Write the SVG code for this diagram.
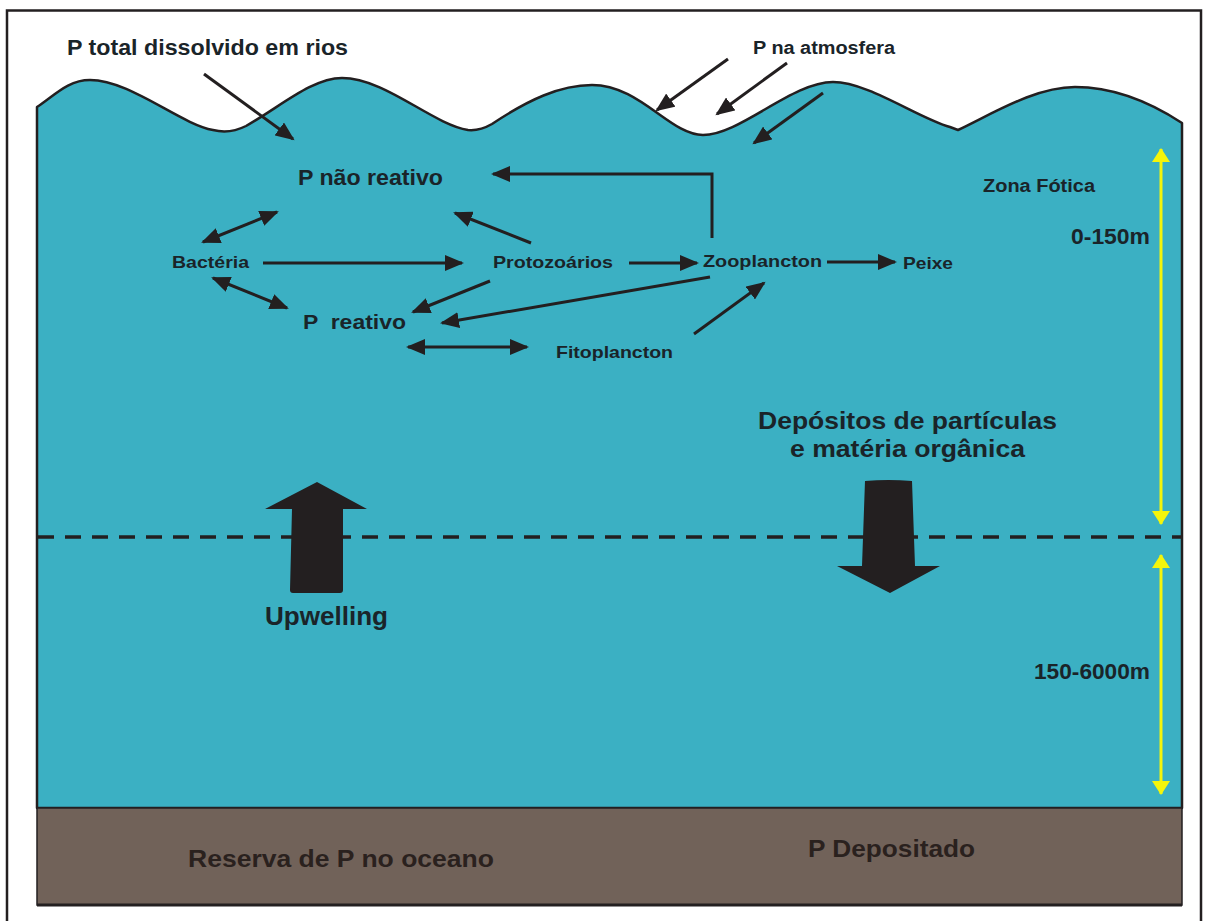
<svg xmlns="http://www.w3.org/2000/svg" width="1208" height="921" viewBox="0 0 1208 921">
<style>
  .t { font-family: "Liberation Sans", Arial, sans-serif; font-weight: bold; fill: #1a2429; }
  .s { font-family: "Liberation Sans", Arial, sans-serif; font-weight: bold; fill: #2a211e; }
  .c { stroke: #231f20; stroke-width: 3; fill: none; }
  .y { stroke: #f5f50a; stroke-width: 3; fill: none; }
</style>
<defs>
  <marker id="ah" markerUnits="userSpaceOnUse" markerWidth="20" markerHeight="16" refX="17" refY="8" orient="auto-start-reverse" viewBox="0 0 20 16">
    <path d="M0,0 L19,8 L0,16 Z" fill="#231f20"/>
  </marker>
  <marker id="yh" markerUnits="userSpaceOnUse" markerWidth="18" markerHeight="18" refX="13" refY="9" orient="auto-start-reverse" viewBox="0 0 14 18">
    <path d="M0,0 L14,9 L0,18 Z" fill="#f5f50a"/>
  </marker>
</defs>
<rect x="0" y="0" width="1208" height="921" fill="#ffffff"/>
<rect x="7" y="10.5" width="1194" height="914" fill="#ffffff" stroke="#231f20" stroke-width="2.5"/>

<g id="ocean">
  <path d="M37,808 L37,107 C55,95 68,80 90,80 C130,80 180,124 213,130 C225,133 236,131 246,126 C280,107 312,78 342,78 C385,78 432,124 468,130 C478,131 485,128 492,124 C528,100 560,85 592,85 C640,85 670,135 703,135 C740,135 792,82 833,82 C868,82 918,118 950,127 L958,130 C992,114 1035,87 1075,87 C1115,87 1150,102 1182,123 L1182,808 Z" fill="#3bb0c3" stroke="#231f20" stroke-width="2.5" stroke-linejoin="round"/>
</g>
<g id="sediment">
  <rect x="37" y="808" width="1145" height="97" fill="#716259" stroke="#231f20" stroke-width="1.5"/>
  <line x1="37" y1="905" x2="1182" y2="905" stroke="#231f20" stroke-width="3"/>
  <text class="s" x="188" y="867" font-size="24" textLength="306" lengthAdjust="spacingAndGlyphs">Reserva de P no oceano</text>
  <text class="s" x="808" y="857" font-size="24" textLength="167" lengthAdjust="spacingAndGlyphs">P Depositado</text>
</g>

<g id="dashed">
  <line x1="38" y1="537" x2="1181" y2="537" stroke="#231f20" stroke-width="3.5" stroke-dasharray="16 11"/>
</g>

<g id="upwelling">
  <path d="M317,482 L367,509 L343,509 L343,590 Q343,593 340,593 L293,593 Q290,593 290,590 L292,509 L265,509 Z" fill="#231f20"/>
  <text class="t" x="265" y="625" font-size="25" textLength="123" lengthAdjust="spacingAndGlyphs">Upwelling</text>
</g>

<g id="deposito">
  <path d="M865,481 Q888,479 912,481 L915,566 L940,566 L890,593 L837,566 L862,566 Z" fill="#231f20"/>
  <text class="t" x="758" y="429" font-size="24" textLength="299" lengthAdjust="spacingAndGlyphs">Depósitos de partículas</text>
  <text class="t" x="790" y="457" font-size="24" textLength="235" lengthAdjust="spacingAndGlyphs">e matéria orgânica</text>
</g>

<g id="zonas">
  <line class="y" x1="1161" y1="149" x2="1161" y2="524" marker-start="url(#yh)" marker-end="url(#yh)"/>
  <line class="y" x1="1161" y1="555" x2="1161" y2="794" marker-start="url(#yh)" marker-end="url(#yh)"/>
  <text class="t" x="983" y="192" font-size="18" textLength="112" lengthAdjust="spacingAndGlyphs">Zona Fótica</text>
  <text class="t" x="1071" y="244" font-size="22" textLength="79" lengthAdjust="spacingAndGlyphs">0-150m</text>
  <text class="t" x="1034" y="679" font-size="22" textLength="116" lengthAdjust="spacingAndGlyphs">150-6000m</text>
</g>

<g id="p-total"><text class="t" x="67" y="55" font-size="22" textLength="281" lengthAdjust="spacingAndGlyphs">P total dissolvido em rios</text></g>
<g id="p-atmosfera"><text class="t" x="753" y="54" font-size="18" textLength="142" lengthAdjust="spacingAndGlyphs">P na atmosfera</text></g>
<g id="p-nao-reativo"><text class="t" x="298" y="185" font-size="22" textLength="145" lengthAdjust="spacingAndGlyphs">P não reativo</text></g>
<g id="bacteria"><text class="t" x="172" y="268" font-size="17" textLength="77" lengthAdjust="spacingAndGlyphs">Bactéria</text></g>
<g id="protozoarios"><text class="t" x="493" y="268" font-size="17" textLength="120" lengthAdjust="spacingAndGlyphs">Protozoários</text></g>
<g id="zooplancton"><text class="t" x="703" y="267" font-size="17" textLength="119" lengthAdjust="spacingAndGlyphs">Zooplancton</text></g>
<g id="peixe"><text class="t" x="903" y="269" font-size="17" textLength="50" lengthAdjust="spacingAndGlyphs">Peixe</text></g>
<g id="p-reativo"><text class="t" x="303" y="329" font-size="21" textLength="103" lengthAdjust="spacingAndGlyphs" xml:space="preserve">P  reativo</text></g>
<g id="fitoplancton"><text class="t" x="556" y="358" font-size="17" textLength="117" lengthAdjust="spacingAndGlyphs">Fitoplancton</text></g>

<g id="connectors">
  <line class="c" x1="204" y1="74" x2="293" y2="139" marker-end="url(#ah)"/>
  <line class="c" x1="728" y1="59" x2="657" y2="110" marker-end="url(#ah)"/>
  <line class="c" x1="787" y1="63" x2="717" y2="114" marker-end="url(#ah)"/>
  <line class="c" x1="823" y1="93" x2="754" y2="143" marker-end="url(#ah)"/>
  <line class="c" x1="203" y1="242" x2="277" y2="212" marker-start="url(#ah)" marker-end="url(#ah)"/>
  <line class="c" x1="263" y1="263" x2="462" y2="263" marker-end="url(#ah)"/>
  <line class="c" x1="531" y1="243" x2="455" y2="213" marker-end="url(#ah)"/>
  <line class="c" x1="213" y1="278" x2="287" y2="308" marker-start="url(#ah)" marker-end="url(#ah)"/>
  <line class="c" x1="490" y1="281" x2="413" y2="312" marker-end="url(#ah)"/>
  <line class="c" x1="710" y1="277" x2="442" y2="323" marker-end="url(#ah)"/>
  <line class="c" x1="408" y1="347" x2="527" y2="347" marker-start="url(#ah)" marker-end="url(#ah)"/>
  <polyline class="c" points="712,238 712,174 493,174" marker-end="url(#ah)"/>
  <line class="c" x1="629" y1="263" x2="697" y2="263" marker-end="url(#ah)"/>
  <line class="c" x1="827" y1="262" x2="895" y2="262" marker-end="url(#ah)"/>
  <line class="c" x1="694" y1="334" x2="764" y2="283" marker-end="url(#ah)"/>
</g>
</svg>
